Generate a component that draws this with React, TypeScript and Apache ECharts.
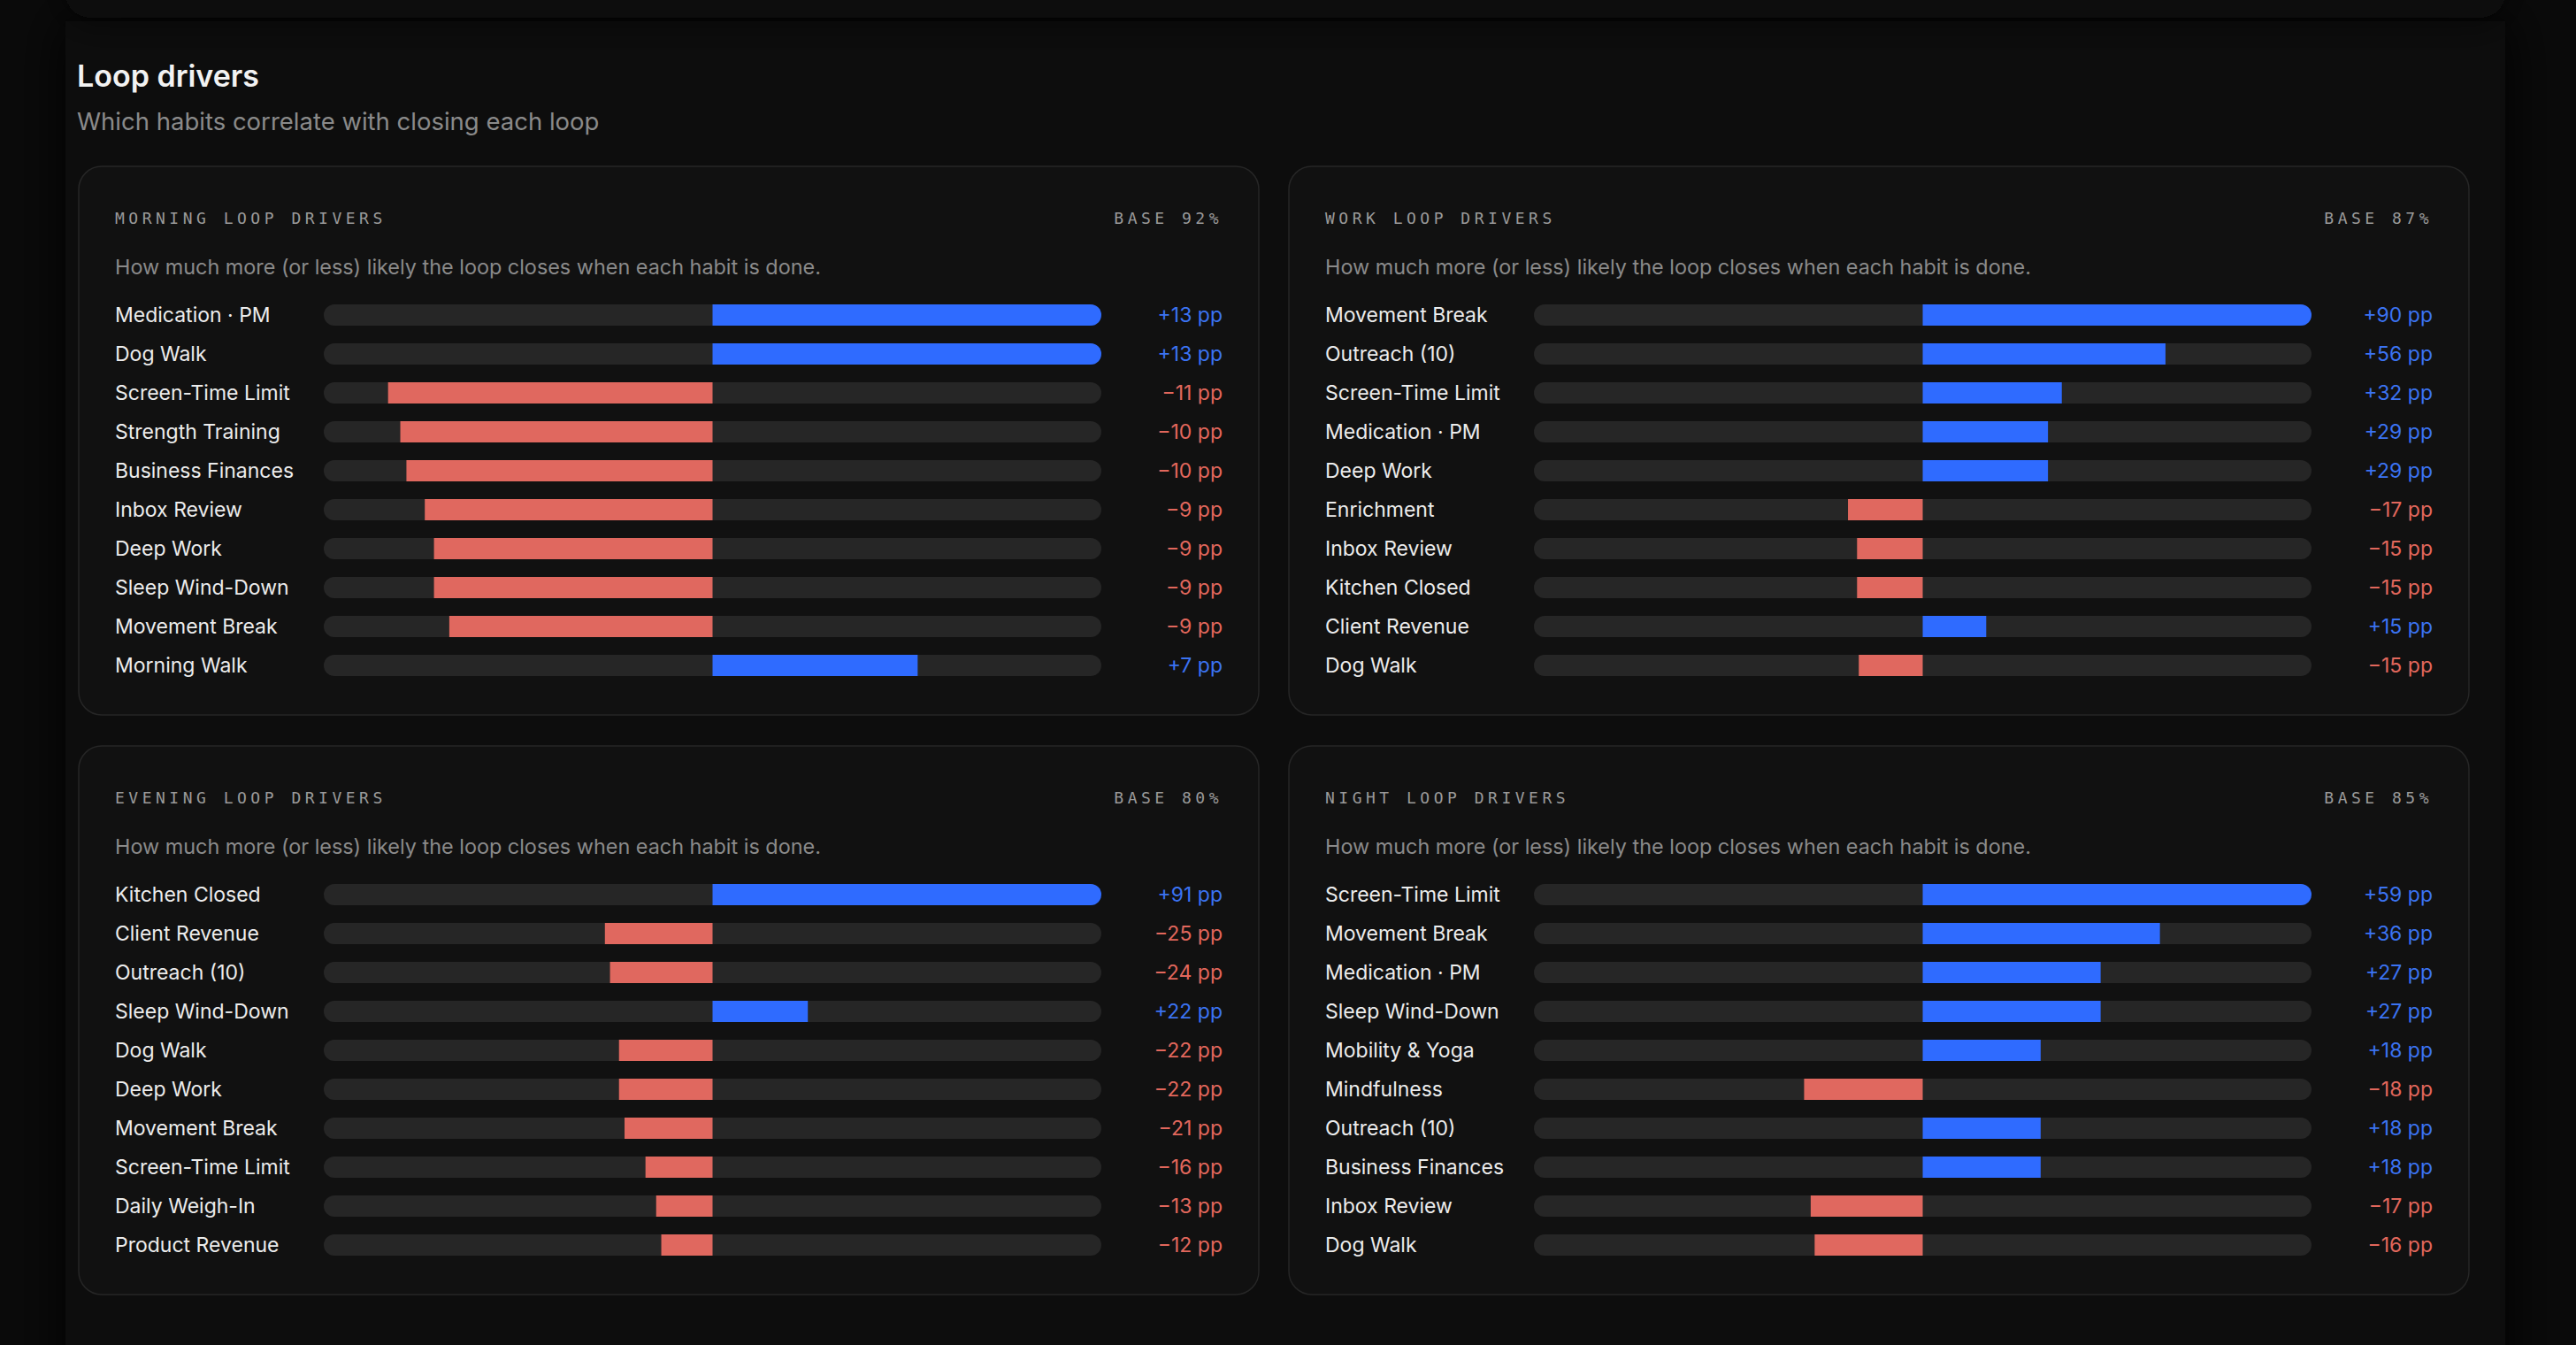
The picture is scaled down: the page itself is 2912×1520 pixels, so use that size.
import React, { useEffect, useRef } from 'react';
import * as echarts from 'echarts';

// ---------- DATA ----------
const pageTitle = 'Loop drivers';
const pageSubtitle = 'Which habits correlate with closing each loop';
const panelNote = 'How much more (or less) likely the loop closes when each habit is done.';

const panelTitles = ['MORNING LOOP DRIVERS', 'WORK LOOP DRIVERS', 'EVENING LOOP DRIVERS', 'NIGHT LOOP DRIVERS'];
const baseRates = [92, 87, 80, 85];

const morningHabits = ['Medication · PM', 'Dog Walk', 'Screen-Time Limit', 'Strength Training', 'Business Finances', 'Inbox Review', 'Deep Work', 'Sleep Wind-Down', 'Movement Break', 'Morning Walk'];
const morningValues = [12.7, 12.7, -10.6, -10.2, -10.0, -9.4, -9.1, -9.1, -8.6, 6.7];

const workHabits = ['Movement Break', 'Outreach (10)', 'Screen-Time Limit', 'Medication · PM', 'Deep Work', 'Enrichment', 'Inbox Review', 'Kitchen Closed', 'Client Revenue', 'Dog Walk'];
const workValues = [90, 56.2, 32.2, 29, 29, -17.3, -15.2, -15.2, 14.7, -14.8];

const eveningHabits = ['Kitchen Closed', 'Client Revenue', 'Outreach (10)', 'Sleep Wind-Down', 'Dog Walk', 'Deep Work', 'Movement Break', 'Screen-Time Limit', 'Daily Weigh-In', 'Product Revenue'];
const eveningValues = [91, -25.2, -24, 22.3, -21.9, -21.9, -20.6, -15.7, -13.2, -12];

const nightHabits = ['Screen-Time Limit', 'Movement Break', 'Medication · PM', 'Sleep Wind-Down', 'Mobility & Yoga', 'Mindfulness', 'Outreach (10)', 'Business Finances', 'Inbox Review', 'Dog Walk'];
const nightValues = [59, 36, 27, 27, 17.9, -18, 17.9, 17.9, -17, -16.4];

const panelHabits = [morningHabits, workHabits, eveningHabits, nightHabits];
const panelValues = [morningValues, workValues, eveningValues, nightValues];

// ---------- LAYOUT / STYLE ----------
const W = 2912;
const H = 1520;
const panelPos = [
  [89, 188],
  [1457, 188],
  [89, 843],
  [1457, 843],
];
const PANEL_W = 1334;
const PANEL_H = 620;
const PAD = 41;
const TRACK_X = 277;
const TRACK_W = 879;
const GRID_TOP = 146;
const ROW_H = 44;
const BAR_H = 24;
const SPACING = 4.5;

const BLUE = '#2f6bff';
const RED = '#e0685f';
const BLUE_TXT = '#3b73f2';
const RED_TXT = '#e2675c';
const SANS = 'Inter, "Noto Sans", sans-serif';
const MONO = '"DejaVu Sans Mono", "Liberation Mono", monospace';

const fmt = (v: number) => {
  const r = Math.round(Math.abs(v));
  return (v >= 0 ? '+' : '\u2212') + r + ' pp';
};

export default function App() {
  const ref = useRef<HTMLDivElement>(null);

  useEffect(() => {
    document.body.style.margin = '0';
    document.body.style.background = '#0a0a0a';
    const el = ref.current!;
    const chart = echarts.init(el, null, { renderer: 'svg', width: W, height: H });

    const graphics: any[] = [
      {
        type: 'rect',
        shape: { x: 74, y: 24, width: 2758, height: 1560 },
        style: { fill: '#0d0d0d', shadowBlur: 60, shadowColor: '#0d0d0d' },
        z: 0,
        silent: true,
      },
      {
        type: 'rect',
        shape: { x: 74, y: -80, width: 2758, height: 100, r: 28 },
        style: { fill: '#101010', shadowBlur: 40, shadowColor: 'rgba(0,0,0,0.5)', shadowOffsetY: 6 },
        z: 0,
        silent: true,
      },
      {
        type: 'text',
        x: 87,
        y: 85,
        style: { text: pageTitle, fill: '#f2f2f2', fontSize: 34, fontWeight: 600, fontFamily: SANS, verticalAlign: 'middle' },
        z: 10,
        silent: true,
      },
      {
        type: 'text',
        x: 87,
        y: 137,
        style: { text: pageSubtitle, fill: '#8a8a8a', fontSize: 27.5, fontFamily: SANS, verticalAlign: 'middle' },
        z: 10,
        silent: true,
      },
    ];

    const grids: any[] = [];
    const xAxes: any[] = [];
    const yAxes: any[] = [];
    const series: any[] = [];

    panelPos.forEach(([px, py], i) => {
      const habits = panelHabits[i];
      const values = panelValues[i];
      const M = Math.max(...values.map((v) => Math.abs(v)));

      graphics.push({
        type: 'rect',
        shape: { x: px, y: py, width: PANEL_W, height: PANEL_H, r: 26 },
        style: { fill: '#111111', stroke: '#262626', lineWidth: 1.5 },
        z: 1,
        silent: true,
      });
      graphics.push({
        type: 'text',
        x: px + PAD,
        y: py + 58,
        style: { text: panelTitles[i], fill: '#9a9a9a', fontSize: 18, fontFamily: MONO, verticalAlign: 'middle' },
        z: 10,
        silent: true,
      });
      graphics.push({
        type: 'text',
        x: px + PANEL_W - PAD,
        y: py + 58,
        style: { text: 'BASE ' + baseRates[i] + '%', fill: '#9a9a9a', fontSize: 18, fontFamily: MONO, align: 'right', verticalAlign: 'middle' },
        z: 10,
        silent: true,
      });
      graphics.push({
        type: 'text',
        x: px + PAD,
        y: py + 113,
        style: { text: panelNote, fill: '#8a8a8a', fontSize: 23.4, fontFamily: SANS, verticalAlign: 'middle' },
        z: 10,
        silent: true,
      });

      grids.push({
        left: px + TRACK_X,
        top: py + GRID_TOP,
        width: TRACK_W,
        height: ROW_H * habits.length,
        containLabel: false,
      });
      xAxes.push({ type: 'value', gridIndex: i, min: -M, max: M, show: false });
      yAxes.push({
        type: 'category',
        gridIndex: i,
        data: habits,
        inverse: true,
        z: 20,
        axisLine: { show: false },
        axisTick: { show: false },
        splitLine: { show: false },
        axisLabel: {
          show: true,
          interval: 0,
          margin: TRACK_X - PAD,
          align: 'left',
          color: '#ececec',
          fontSize: 23,
          fontFamily: SANS,
        },
      });
      yAxes.push({
        type: 'category',
        gridIndex: i,
        position: 'right',
        data: habits,
        inverse: true,
        z: 20,
        axisLine: { show: false },
        axisTick: { show: false },
        splitLine: { show: false },
        axisLabel: {
          show: true,
          interval: 0,
          margin: PANEL_W - PAD - TRACK_X - TRACK_W,
          align: 'right',
          fontSize: 23,
          fontFamily: SANS,
          formatter: (_v: string, idx: number) => fmt(values[idx]),
          color: (_v: string, idx: number) => (values[idx] >= 0 ? BLUE_TXT : RED_TXT),
        },
      });
      series.push({
        type: 'bar',
        xAxisIndex: i,
        yAxisIndex: i * 2,
        barWidth: BAR_H,
        silent: true,
        showBackground: true,
        backgroundStyle: { color: '#262626', borderRadius: BAR_H / 2 },
        data: values.map((v) => ({
          value: v,
          itemStyle: {
            color: v >= 0 ? BLUE : RED,
            borderRadius: Math.abs(v) >= M ? (v > 0 ? [0, BAR_H / 2, BAR_H / 2, 0] : [BAR_H / 2, 0, 0, BAR_H / 2]) : 0,
          },
        })),
        z: 3,
      });
    });

    chart.setOption({
      animation: false,
      backgroundColor: '#0a0a0a',
      tooltip: { show: false },
      graphic: { elements: graphics },
      grid: grids,
      xAxis: xAxes,
      yAxis: yAxes,
      series,
    });

    const spaced = new Set<string>([...panelTitles, ...baseRates.map((b) => 'BASE ' + b + '%')]);
    const applySpacing = () => {
      el.querySelectorAll('text').forEach((t) => {
        if (spaced.has((t.textContent || '').trim())) {
          t.setAttribute('letter-spacing', String(SPACING));
        }
      });
    };
    applySpacing();
    chart.on('finished', applySpacing);
    const timer = window.setTimeout(applySpacing, 50);

    return () => {
      window.clearTimeout(timer);
      chart.dispose();
    };
  }, []);

  return (
    <div style={{ position: 'fixed', left: 0, top: 0, width: W, height: H, background: '#0a0a0a' }}>
      <div ref={ref} style={{ width: W, height: H }} />
    </div>
  );
}
